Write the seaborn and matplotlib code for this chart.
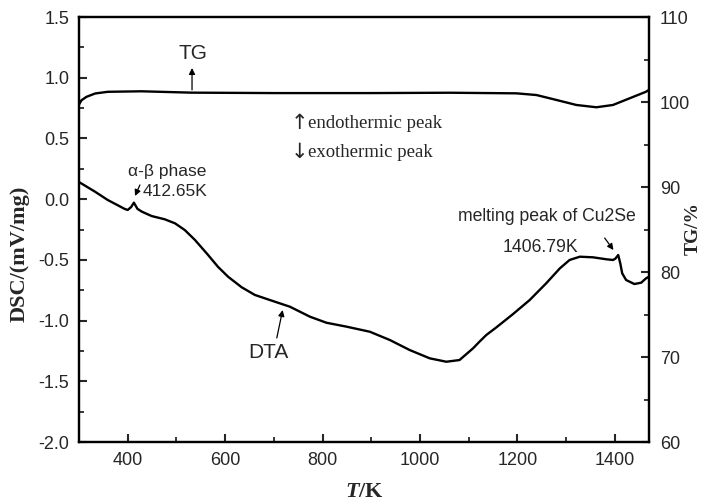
import matplotlib
matplotlib.use("Agg")
import matplotlib.pyplot as plt
from matplotlib.ticker import MultipleLocator
import pandas as pd
import seaborn as sns

# DTA / DSC signal (mV/mg) against temperature (K)
dsc_T = [300, 333, 359, 394, 400, 407, 412.65, 420, 429, 449, 476, 497, 517, 538,
         565, 585, 606, 634, 661, 692, 733, 774, 808, 849, 897, 938, 979, 1020,
         1054, 1081, 1109, 1122, 1136, 1157, 1191, 1225, 1259, 1287, 1307, 1328,
         1355, 1382, 1396, 1401, 1406.79, 1411, 1415, 1423, 1440, 1454, 1464, 1469]
dsc_val = [0.141, 0.061, -0.007, -0.081, -0.089, -0.065, -0.029, -0.080, -0.103,
           -0.139, -0.166, -0.199, -0.254, -0.336, -0.460, -0.556, -0.639, -0.726,
           -0.789, -0.831, -0.886, -0.968, -1.018, -1.050, -1.092, -1.160, -1.243,
           -1.311, -1.339, -1.325, -1.228, -1.174, -1.119, -1.055, -0.946, -0.831,
           -0.693, -0.570, -0.501, -0.474, -0.479, -0.495, -0.501, -0.490, -0.460,
           -0.528, -0.611, -0.666, -0.699, -0.688, -0.652, -0.641]

# TG mass signal (%) against temperature (K)
tg_T = [300, 305, 315, 333, 359, 428, 531, 702, 900, 1061, 1198, 1239, 1280,
        1321, 1362, 1396, 1430, 1464, 1469]
tg_val = [99.7, 100.2, 100.6, 101.0, 101.2, 101.26, 101.1, 101.05, 101.05, 101.09,
          101.02, 100.82, 100.24, 99.65, 99.38, 99.65, 100.43, 101.21, 101.4]

x_ticks = [400, 600, 800, 1000, 1200, 1400]
dsc_ticks = [-2.0, -1.5, -1.0, -0.5, 0.0, 0.5, 1.0, 1.5]
tg_ticks = [60, 70, 80, 90, 100, 110]

dsc_df = pd.DataFrame({"T": dsc_T, "DSC": dsc_val})
tg_df = pd.DataFrame({"T": tg_T, "TG": tg_val})

sns.set_style("ticks")
plt.rcParams["font.family"] = ["Liberation Sans", "DejaVu Sans"]
plt.rcParams["mathtext.fontset"] = "custom"
plt.rcParams["mathtext.it"] = "Liberation Serif:italic:bold"
plt.rcParams["mathtext.rm"] = "Liberation Serif:bold"

fig = plt.figure(figsize=(7.05, 5.01), dpi=100)
ax = fig.add_axes([0.11206, 0.11776, 0.80851, 0.84830])
ax2 = ax.twinx()

sns.lineplot(data=dsc_df, x="T", y="DSC", ax=ax, color="black", lw=1.7,
             sort=False, estimator=None)
sns.lineplot(data=tg_df, x="T", y="TG", ax=ax2, color="black", lw=1.7,
             sort=False, estimator=None)

ax.set_xlim(300, 1470)
ax.set_ylim(-2.0, 1.5)
ax2.set_ylim(60, 110)

ax.set_xticks(x_ticks)
ax.set_xticklabels([f"{v:g}" for v in x_ticks])
ax.set_yticks(dsc_ticks)
ax.set_yticklabels([f"{v:.1f}" for v in dsc_ticks])
ax2.set_yticks(tg_ticks)
ax2.set_yticklabels([f"{v:g}" for v in tg_ticks])
ax.xaxis.set_minor_locator(MultipleLocator(100))
ax.yaxis.set_minor_locator(MultipleLocator(0.25))
ax2.yaxis.set_minor_locator(MultipleLocator(5))

for a in (ax, ax2):
    for s in a.spines.values():
        s.set_linewidth(1.6)
        s.set_color("black")
ax.tick_params(axis="both", which="major", direction="in", length=6, width=1.5,
               labelsize=13, top=False, right=False, pad=7)
ax.tick_params(axis="both", which="minor", direction="in", length=3.5, width=1.3,
               top=False, right=False)
ax2.tick_params(axis="y", which="major", direction="in", length=6, width=1.5,
                labelsize=13, pad=8)
ax2.tick_params(axis="y", which="minor", direction="in", length=3.5, width=1.3)

serif_bold = dict(family=["Liberation Serif", "DejaVu Serif"], weight="bold")
ax.set_xlabel(r"$T$/K", fontsize=16, **serif_bold)
ax.set_ylabel("DSC/(mV/mg)", fontsize=16, **serif_bold)
ax2.set_ylabel("TG/%", fontsize=14, **serif_bold)
ax.xaxis.set_label_coords(0.5, -0.095)
ax.yaxis.set_label_coords(-0.086, 0.4435)
ax2.yaxis.set_label_coords(1.062, 0.5035)

arrow = dict(arrowstyle="-|>", color="black", lw=0.9, mutation_scale=9,
             shrinkA=0, shrinkB=0)

ax.text(534, 1.20, "TG", fontsize=15, ha="center", va="center")
ax.annotate("", xy=(532, 1.08), xytext=(532, 0.90), arrowprops=arrow)

ax.text(400, 0.224, "\u03b1-\u03b2 phase", fontsize=12.5, ha="left", va="center")
ax.text(431, 0.059, "412.65K", fontsize=12.5, ha="left", va="center")
ax.annotate("", xy=(415, 0.026), xytext=(425, 0.117), arrowprops=arrow)

ax.text(688, -1.259, "DTA", fontsize=15, ha="center", va="center")
ax.annotate("", xy=(718, -0.913), xytext=(706, -1.143), arrowprops=arrow)

ax.text(1261, -0.147, "melting peak of Cu2Se", fontsize=12.7, ha="center", va="center")
ax.text(1248, -0.402, "1406.79K", fontsize=12.7, ha="center", va="center")
ax.annotate("", xy=(1397, -0.419), xytext=(1379, -0.320), arrowprops=arrow)

serif = ["Liberation Serif", "DejaVu Serif"]
ax.text(752, 0.627, "\u2191", fontsize=15, family=["DejaVu Sans"],
        ha="center", va="center")
ax.text(752, 0.388, "\u2193", fontsize=15, family=["DejaVu Sans"],
        ha="center", va="center")
ax.text(770, 0.627, "endothermic peak", fontsize=13.5, family=serif,
        ha="left", va="center")
ax.text(770, 0.388, "exothermic peak", fontsize=13.5, family=serif,
        ha="left", va="center")

fig.savefig("out.png", dpi=100)
